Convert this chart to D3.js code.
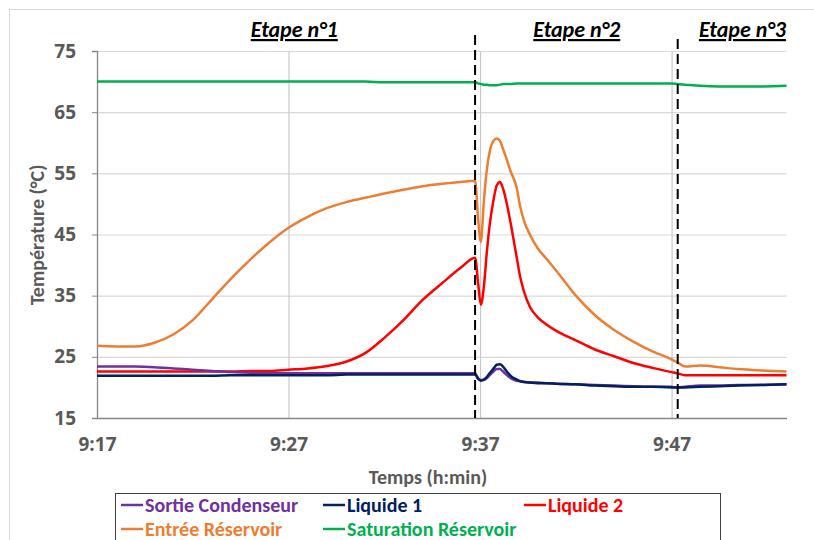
<!DOCTYPE html>
<html><head><meta charset="utf-8">
<script src="https://cdn.jsdelivr.net/npm/d3@7"></script>
<style>
html,body{margin:0;padding:0;background:#fff;}
svg{display:block;}
text{font-family:"Carlito","Liberation Sans Narrow","Liberation Sans",sans-serif;font-weight:bold;}
</style></head>
<body>
<script>
// minutes after 9:17
const minutes = [0,1,2,3,4,5,6,7,8,9,10,11,12,13,14,15,16,17,18,19,19.74,19.9,20.04,20.2,20.35,20.5,20.7,20.87,21.04,21.2,21.4,21.6,21.9,22.1,22.3,22.6,23.0,23.5,24,25,26,27,28,29,30,30.3,30.7,31.5,32.5,33.5,34.5,36];
const sortieCondenseur = [23.4,23.4,23.4,23.3,23.1,22.9,22.7,22.5,22.4,22.3,22.3,22.3,22.3,22.3,22.3,22.3,22.3,22.3,22.3,22.3,22.3,21.5,21.2,21.2,21.5,22.0,22.6,23.0,23.0,22.6,22.0,21.5,21.1,21.0,20.9,20.8,20.8,20.7,20.6,20.5,20.4,20.3,20.2,20.1,20.1,20.0,20.1,20.3,20.3,20.4,20.4,20.5];
const liquide1 = [21.9,21.9,21.9,21.9,21.9,21.9,21.9,22.0,22.0,22.0,22.0,22.0,22.0,22.1,22.1,22.1,22.1,22.1,22.1,22.1,22.1,21.4,21.1,21.3,21.7,22.3,23.1,23.7,23.8,23.4,22.6,21.9,21.3,21.0,20.9,20.8,20.7,20.7,20.6,20.5,20.3,20.2,20.1,20.1,20.0,20.0,20.0,20.1,20.2,20.3,20.4,20.5];
const liquide2 = [22.6,22.6,22.6,22.6,22.6,22.6,22.6,22.6,22.7,22.7,22.9,23.1,23.5,24.2,25.6,28.1,31.0,34.3,37.0,39.6,41.2,37.0,33.5,36.5,42.0,46.5,50.6,53.0,53.6,52.5,50.0,46.8,41.5,38.0,35.6,33.2,31.5,30.2,29.2,27.7,26.2,25.1,24.0,23.2,22.5,22.3,22.0,22.0,22.0,22.0,22.0,22.0];
const entreeReservoir = [26.8,26.7,26.7,27.3,28.7,31.0,34.4,37.8,40.9,43.7,46.1,47.9,49.3,50.3,51.0,51.7,52.3,52.9,53.3,53.6,53.8,47.5,43.8,50.5,55.5,58.5,60.3,60.7,60.3,59.0,57.2,55.3,52.8,49.5,47.2,45.0,42.8,40.9,39.0,35.0,31.8,29.4,27.5,25.9,24.6,24.1,23.4,23.6,23.3,23.0,22.8,22.6];
const saturationReservoir = [70.0,70.0,70.0,70.0,70.0,70.0,70.0,70.0,70.0,70.0,70.0,70.0,70.0,70.0,70.0,69.9,69.9,69.9,69.9,69.9,69.9,69.7,69.6,69.5,69.5,69.4,69.4,69.4,69.5,69.6,69.6,69.6,69.7,69.7,69.7,69.7,69.7,69.7,69.7,69.7,69.7,69.7,69.7,69.7,69.7,69.6,69.5,69.3,69.2,69.2,69.2,69.3];
const seriesNames = ["Sortie Condenseur","Liquide 1","Liquide 2","Entrée Réservoir","Saturation Réservoir"];
const seriesColors = ["#7030A0","#002060","#FF0000","#ED7D31","#00B050"];
const seriesValues = [sortieCondenseur,liquide1,liquide2,entreeReservoir,saturationReservoir];
const xTickValues = [0,10,20,30];
const xTickLabels = ["9:17","9:27","9:37","9:47"];
const yTickValues = [15,25,35,45,55,65,75];
const stageBounds = [19.74,30.32];
const stageLabels = ["Etape n°1","Etape n°2","Etape n°3"];
const stageLabelMinutes = [10.3,25.05,33.7];

const W=814,H=540;
const svg=d3.select("body").append("svg").attr("width",W).attr("height",H);
const x=d3.scaleLinear().domain([0,36]).range([97,786.5]);
const y=d3.scaleLinear().domain([15,75]).range([418,51]);
const tickFont="'Open Sans', sans-serif";

// outer chart border
svg.append("rect").attr("x",9.5).attr("y",9.5).attr("width",W).attr("height",H).attr("fill","none").attr("stroke","#d9d9d9");

// horizontal grid
svg.append("g").selectAll("line").data(yTickValues.slice(1)).join("line")
  .attr("x1",x(0)).attr("x2",x(36)).attr("y1",d=>y(d)+0.5).attr("y2",d=>y(d)+0.5)
  .attr("stroke","#d9d9d9").attr("stroke-width",1.2);
// vertical grid
svg.append("g").selectAll("line").data(xTickValues.slice(1)).join("line")
  .attr("x1",d=>x(d)+0.5).attr("x2",d=>x(d)+0.5).attr("y1",y(75)).attr("y2",y(15))
  .attr("stroke","#c8c8c8").attr("stroke-width",1.2);

// axes
const yAxis=d3.axisLeft(y).tickValues(yTickValues).tickSize(5).tickPadding(16).tickFormat(d3.format("d"));
const gy=svg.append("g").attr("transform",`translate(${x(0)},0)`).call(yAxis);
gy.select(".domain").attr("stroke","#868686").attr("stroke-width",1.3);
gy.selectAll(".tick line").attr("stroke","#868686");
gy.selectAll(".tick text").attr("fill","#595959").style("font-size","19px").style("font-family",tickFont).style("font-weight","bold");

const xAxis=d3.axisBottom(x).tickValues(xTickValues).tickSize(0).tickPadding(20).tickFormat((d,i)=>xTickLabels[i]);
const gx=svg.append("g").attr("transform",`translate(0,${y(15)})`).call(xAxis);
gx.select(".domain").attr("stroke","#868686").attr("stroke-width",1.3);
gx.selectAll(".tick text").attr("fill","#595959").style("font-size","19px").style("font-family",tickFont).style("font-weight","bold");

// axis titles
svg.append("text").attr("x",428).attr("y",484).attr("text-anchor","middle").attr("fill","#595959").style("font-size","20px").text("Temps (h:min)");
svg.append("text").attr("transform","translate(44,235) rotate(-90)").attr("text-anchor","middle").attr("fill","#595959").style("font-size","20px").text("Température (°C)");

// series
const line=d3.line().x((d,i)=>x(minutes[i])).y(d=>y(d)).curve(d3.curveMonotoneX);
const order=[4,3,2,0,1];
svg.append("g").selectAll("path").data(order).join("path")
  .attr("d",k=>line(seriesValues[k])).attr("fill","none")
  .attr("stroke",k=>seriesColors[k]).attr("stroke-width",2.5).attr("stroke-linejoin","round");

// stage dashed lines
const dashTop=[35,39];
svg.append("g").selectAll("line").data(stageBounds).join("line")
  .attr("x1",d=>x(d)).attr("x2",d=>x(d)).attr("y1",(d,i)=>dashTop[i]).attr("y2",y(15))
  .attr("stroke","#000").attr("stroke-width",2).attr("stroke-dasharray","10,5");

// stage labels
svg.append("g").selectAll("text").data(stageLabels).join("text")
  .attr("x",(d,i)=>x(stageLabelMinutes[i])).attr("y",37).attr("text-anchor","middle")
  .attr("fill","#000").style("font-size","22px").style("font-style","italic").style("text-decoration","underline")
  .text(d=>d);

// legend
svg.append("rect").attr("x",115.5).attr("y",493.5).attr("width",605).attr("height",80).attr("fill","none").attr("stroke","#404040").attr("stroke-width",1);
const legPos=[[121,505],[323,505],[524,505],[121,529],[323,529]];
const lg=svg.append("g").selectAll("g").data(seriesNames).join("g")
  .attr("transform",(d,i)=>`translate(${legPos[i][0]},${legPos[i][1]})`);
lg.append("line").attr("x1",0).attr("x2",22).attr("y1",0).attr("y2",0).attr("stroke",(d,i)=>seriesColors[i]).attr("stroke-width",2.5);
lg.append("text").attr("x",24).attr("y",7).attr("fill",(d,i)=>seriesColors[i]).style("font-size","20px").text(d=>d);
</script>
</body></html>
